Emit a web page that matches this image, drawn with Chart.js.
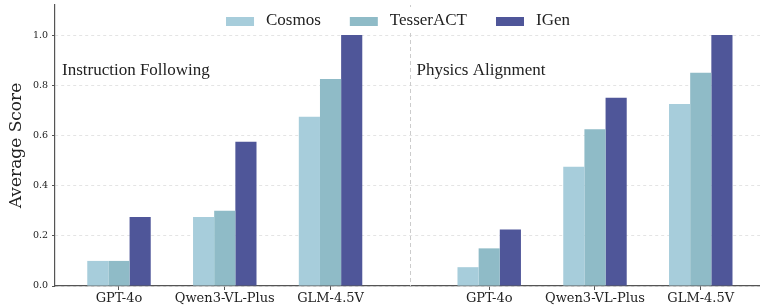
<!DOCTYPE html>
<html>
<head>
<meta charset="utf-8">
<script src="https://cdn.jsdelivr.net/npm/chart.js@4.4.1/dist/chart.umd.min.js"></script>
<style>
  html, body { margin: 0; padding: 0; background: #fff; }
  #wrap { width: 760px; height: 308px; }
</style>
</head>
<body>
<div id="wrap"><canvas id="myChart"></canvas></div>
<script>
// categories (two panels, same models)
const models = ['GPT-4o', 'Qwen3-VL-Plus', 'GLM-4.5V', 'GPT-4o', 'Qwen3-VL-Plus', 'GLM-4.5V'];
const positions = [0, 1, 2, 3.5, 4.5, 5.5];
const panelTitles = ['Instruction Following', 'Physics Alignment'];
const yTicks = [0, 0.2, 0.4, 0.6, 0.8, 1.0];

// scores: first 3 = instruction following, last 3 = physics alignment
const cosmos    = [0.10, 0.275, 0.675, 0.075, 0.475, 0.725];
const tesseract = [0.10, 0.30, 0.825, 0.15, 0.625, 0.85];
const igen      = [0.275, 0.575, 1.0, 0.225, 0.75, 1.0];

const colors = ['#a7cddb', '#8fbbc7', '#4f5699'];

function pts(vals) {
    return positions.map((x, i) => ({x: x, y: vals[i]}));
}

const extras = {
    id: 'extras',
    afterDatasetsDraw(chart) {
        const {ctx, chartArea, scales} = chart;
        const x = scales.x;
        ctx.save();
        // panel separator
        const sx = Math.round(x.getPixelForValue((positions[2] + positions[3]) / 2)) + 0.5;
        ctx.strokeStyle = '#cccccc';
        ctx.lineWidth = 1;
        ctx.setLineDash([4, 3]);
        ctx.beginPath();
        ctx.moveTo(sx, chartArea.top);
        ctx.lineTo(sx, chartArea.bottom);
        ctx.stroke();
        ctx.setLineDash([]);

        // panel titles
        ctx.fillStyle = '#222';
        ctx.font = '17px "Liberation Serif"';
        ctx.textBaseline = 'middle';
        ctx.textAlign = 'left';
        ctx.fillText(panelTitles[0], 62, 71);
        ctx.fillText(panelTitles[1], sx + 6, 71);

        // legend
        ctx.fillStyle = '#fff';
        ctx.fillRect(215, 7, 370, 24);
        const items = chart.data.datasets;
        let widths = items.map(d => ctx.measureText(d.label).width);
        const boxW = 28, gap = 12, sep = 29;
        let total = 0;
        widths.forEach((w, i) => { total += boxW + gap + w + (i < widths.length - 1 ? sep : 0); });
        let lx = 398 - total / 2;
        items.forEach((d, i) => {
            ctx.fillStyle = d.backgroundColor;
            ctx.fillRect(lx, 17, boxW, 9);
            ctx.fillStyle = '#222';
            ctx.fillText(d.label, lx + boxW + gap, 21);
            lx += boxW + gap + widths[i] + sep;
        });
        ctx.restore();
    }
};

const ctx = document.getElementById('myChart').getContext('2d');
const myChart = new Chart(ctx, {
    type: 'bar',
    data: {
        datasets: [
            {label: 'Cosmos', data: pts(cosmos), backgroundColor: colors[0]},
            {label: 'TesserACT', data: pts(tesseract), backgroundColor: colors[1]},
            {label: 'IGen', data: pts(igen), backgroundColor: colors[2]}
        ]
    },
    options: {
        responsive: true,
        maintainAspectRatio: false,
        animation: false,
        layout: {padding: {top: 5, left: 0, right: 0, bottom: 0}},
        categoryPercentage: 0.6,
        barPercentage: 1.0,
        plugins: {
            legend: {display: false},
            tooltip: {enabled: false}
        },
        scales: {
            x: {
                type: 'linear',
                min: -0.605,
                max: 6.06,
                offset: false,
                grid: {drawOnChartArea: false, offset: false, tickLength: 4, tickColor: '#555', tickWidth: 1},
                border: {color: '#555', width: 1.2},
                afterBuildTicks(scale) {
                    scale.ticks = positions.map(v => ({value: v}));
                },
                afterFit(scale) {
                    scale.height = 22;
                    scale.paddingLeft = 0;
                    scale.paddingRight = 0;
                },
                ticks: {
                    color: '#222',
                    font: {family: '"DejaVu Serif"', size: 13},
                    padding: 1,
                    autoSkip: false,
                    maxRotation: 0,
                    callback(value) {
                        const i = positions.indexOf(value);
                        return i >= 0 ? models[i] : '';
                    }
                }
            },
            y: {
                min: 0,
                max: 1.12,
                afterBuildTicks(scale) {
                    scale.ticks = yTicks.map(v => ({value: v}));
                },
                afterFit(scale) {
                    scale.width = 55;
                    scale.paddingTop = 0;
                    scale.paddingBottom = 0;
                },
                grid: {color: '#dddddd', lineWidth: 0.8, tickLength: 3, tickColor: '#555', tickWidth: 1, tickBorderDash: []},
                border: {color: '#555', width: 1.2, dash: [3, 3]},
                ticks: {
                    color: '#222',
                    font: {family: '"DejaVu Serif"', size: 9.5},
                    padding: 4,
                    callback(value) { return value.toFixed(1); }
                },
                title: {
                    display: true,
                    text: 'Average Score',
                    color: '#222',
                    font: {family: '"DejaVu Serif"', size: 17},
                    padding: {top: 6, bottom: 0}
                }
            }
        }
    },
    plugins: [extras]
});
</script>
</body>
</html>
